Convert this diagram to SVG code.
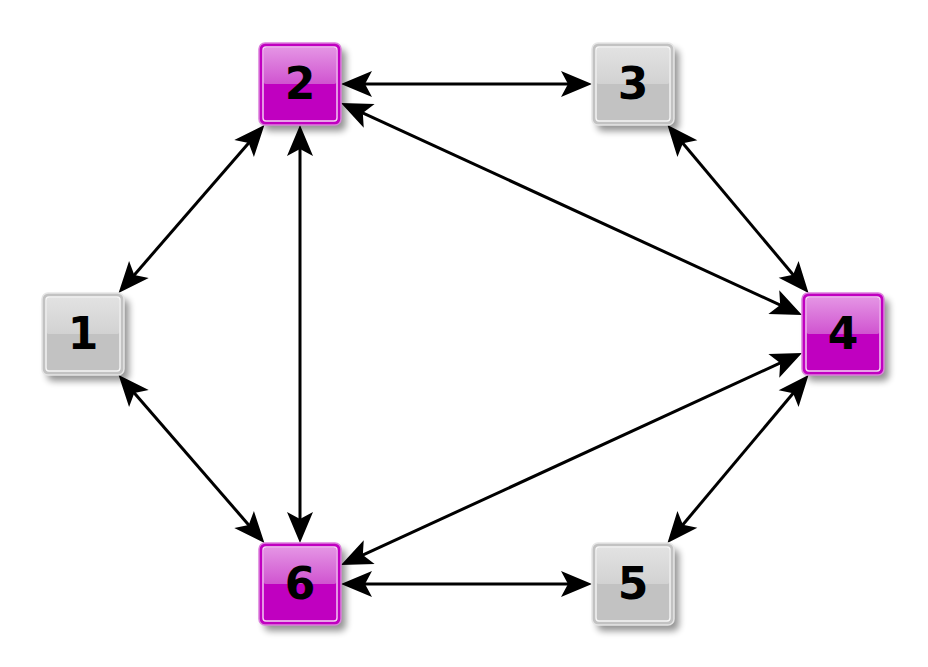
<svg xmlns="http://www.w3.org/2000/svg" width="928" height="667" viewBox="0 0 928 667">
<defs>
<style>
.sh{fill:#000;opacity:0.42;filter:url(#blur)}
.om{fill:#c000c0;stroke:#dc80dc;stroke-width:1.5}
.og{fill:#c2c2c2;stroke:#e6e6e6;stroke-width:1.5}
.tm{fill:url(#gm)}
.tg{fill:url(#gg)}
.il{fill:none;stroke-width:1.4}
.ilm{stroke:#f4d4f4}
.ilg{stroke:#f6f6f6}
.lbl{font-family:"DejaVu Sans",sans-serif;font-weight:bold;font-size:44px;text-anchor:middle;fill:#000}
.e{stroke:#000;stroke-width:3;fill:none;marker-start:url(#ah);marker-end:url(#ah)}
</style>
<filter id="blur" x="-30%" y="-30%" width="160%" height="160%"><feGaussianBlur stdDeviation="3.5"/></filter>
<linearGradient id="gm" x1="0" y1="0" x2="0" y2="1"><stop offset="0" stop-color="#e494e4"/><stop offset="1" stop-color="#d054d0"/></linearGradient>
<linearGradient id="gg" x1="0" y1="0" x2="0" y2="1"><stop offset="0" stop-color="#e2e2e2"/><stop offset="1" stop-color="#d2d2d2"/></linearGradient>
<marker id="ah" markerUnits="userSpaceOnUse" orient="auto-start-reverse" refX="-22" refY="0" overflow="visible" markerWidth="1" markerHeight="1">
<path d="M0,0 L-31,-13 L-24,0 L-31,13 Z" fill="#000"/>
</marker>
</defs>
<g id="edges">
<line class="e" x1="363" y1="84" x2="570" y2="84"/>
<line class="e" x1="300" y1="147" x2="300" y2="521"/>
<line class="e" x1="363" y1="584" x2="570" y2="584"/>
<line class="e" x1="361" y1="112.1" x2="782" y2="305.9"/>
<line class="e" x1="361" y1="555.9" x2="782" y2="362.1"/>
<line class="e" x1="250" y1="141.6" x2="133" y2="276.4"/>
<line class="e" x1="133" y1="391.6" x2="250" y2="526.4"/>
<line class="e" x1="681.6" y1="141.8" x2="794.4" y2="276.2"/>
<line class="e" x1="681.6" y1="526.2" x2="794.4" y2="391.8"/>
</g>
<g id="n1" transform="translate(42,293)">
<rect class="sh" x="5" y="6" width="82" height="82" rx="6"/>
<rect class="og" x="0" y="0" width="82" height="82" rx="6"/>
<rect class="tg" x="4.7" y="4.7" width="72.6" height="36.3" rx="2"/>
<rect class="il ilg" x="4" y="4" width="74" height="74" rx="3"/>
<text class="lbl" x="41" y="56">1</text>
</g>
<g id="n2" transform="translate(259,43)">
<rect class="sh" x="5" y="6" width="82" height="82" rx="6"/>
<rect class="om" x="0" y="0" width="82" height="82" rx="6"/>
<rect class="tm" x="4.7" y="4.7" width="72.6" height="36.3" rx="2"/>
<rect class="il ilm" x="4" y="4" width="74" height="74" rx="3"/>
<text class="lbl" x="41" y="56">2</text>
</g>
<g id="n3" transform="translate(592,43)">
<rect class="sh" x="5" y="6" width="82" height="82" rx="6"/>
<rect class="og" x="0" y="0" width="82" height="82" rx="6"/>
<rect class="tg" x="4.7" y="4.7" width="72.6" height="36.3" rx="2"/>
<rect class="il ilg" x="4" y="4" width="74" height="74" rx="3"/>
<text class="lbl" x="41" y="56">3</text>
</g>
<g id="n4" transform="translate(802,293)">
<rect class="sh" x="5" y="6" width="82" height="82" rx="6"/>
<rect class="om" x="0" y="0" width="82" height="82" rx="6"/>
<rect class="tm" x="4.7" y="4.7" width="72.6" height="36.3" rx="2"/>
<rect class="il ilm" x="4" y="4" width="74" height="74" rx="3"/>
<text class="lbl" x="41" y="56">4</text>
</g>
<g id="n5" transform="translate(592,543)">
<rect class="sh" x="5" y="6" width="82" height="82" rx="6"/>
<rect class="og" x="0" y="0" width="82" height="82" rx="6"/>
<rect class="tg" x="4.7" y="4.7" width="72.6" height="36.3" rx="2"/>
<rect class="il ilg" x="4" y="4" width="74" height="74" rx="3"/>
<text class="lbl" x="41" y="56">5</text>
</g>
<g id="n6" transform="translate(259,543)">
<rect class="sh" x="5" y="6" width="82" height="82" rx="6"/>
<rect class="om" x="0" y="0" width="82" height="82" rx="6"/>
<rect class="tm" x="4.7" y="4.7" width="72.6" height="36.3" rx="2"/>
<rect class="il ilm" x="4" y="4" width="74" height="74" rx="3"/>
<text class="lbl" x="41" y="56">6</text>
</g>
</svg>
